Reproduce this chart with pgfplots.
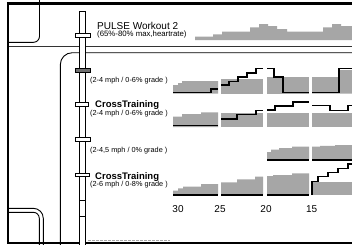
\documentclass[border=0pt]{standalone}
\usepackage{pgfplots}
\pgfplotsset{compat=1.18}
\usepackage{fontspec}
\setmainfont{Liberation Sans}
\definecolor{cg}{HTML}{A6A6A6}
\definecolor{hd}{HTML}{707070}
\begin{document}
\begin{tikzpicture}
\begin{axis}[x=1pt,y=1pt,y dir=reverse,xmin=0,xmax=352,ymin=0,ymax=244,
  hide axis,scale only axis,clip=true]
\fill[white] (axis cs:0,0) rectangle (axis cs:352,244);
% frame
\draw[line width=0.9pt,rounded corners=6pt] (axis cs:39.5,0) -- (axis cs:39.5,42.3) -- (axis cs:8,42.3);
\draw[line width=0.9pt,black!80] (axis cs:8,46.3) -- (axis cs:352,46.3);
\draw[line width=0.9pt,rounded corners=12pt] (axis cs:352,52.7) -- (axis cs:60.3,52.7) -- (axis cs:60.3,250);
\draw[line width=0.9pt,rounded corners=10pt] (axis cs:8,208.3) -- (axis cs:43.3,208.3) -- (axis cs:43.3,250);
\draw[line width=0.9pt,rounded corners=6pt] (axis cs:8,212.3) -- (axis cs:39.3,212.3) -- (axis cs:39.3,250);
\draw[line width=3pt] (axis cs:6.8,3.5) -- (axis cs:352,3.5);
\draw[line width=2.5pt] (axis cs:8,2) -- (axis cs:8,244);
\draw[line width=2pt] (axis cs:8,243) -- (axis cs:352,243);
\draw[cg,line width=1pt,dash pattern=on 3pt off 1pt] (axis cs:88,240.5) -- (axis cs:170,240.5);
% slider
\draw[line width=0.8pt,fill=white] (axis cs:79.5,11) rectangle (axis cs:85.5,250);
\draw[line width=0.6pt] (axis cs:79.5,200) -- (axis cs:85.5,200);
\draw[line width=0.6pt] (axis cs:79.5,216) -- (axis cs:85.5,216);
\draw[line width=0.8pt,fill=white] (axis cs:75,33.3) rectangle (axis cs:90,37.3);
\draw[line width=0.8pt,fill=hd] (axis cs:75,68) rectangle (axis cs:90,72.5);
\draw[line width=0.8pt,fill=white] (axis cs:75,102.7) rectangle (axis cs:88.5,106.3);
\draw[line width=0.8pt,fill=white] (axis cs:75,137.7) rectangle (axis cs:90,141.7);
\draw[line width=0.8pt,fill=white] (axis cs:75,173.3) rectangle (axis cs:89,176.7);
% texts
\node[anchor=base west,inner sep=0] at (axis cs:97,29.5) {\fontsize{10}{12}\selectfont PULSE Workout 2};
\node[anchor=base west,inner sep=0] at (axis cs:97,36.5) {\fontsize{7.8}{9}\selectfont (65\%-80\% max,heartrate)};
\node[anchor=base west,inner sep=0] at (axis cs:90,82.5) {\fontsize{7.3}{9}\selectfont (2-4 mph / 0-6\% grade )};
\node[anchor=base west,inner sep=0] at (axis cs:95,107.7) {\fontsize{9.5}{11}\selectfont\bfseries CrossTraining};
\node[anchor=base west,inner sep=0] at (axis cs:90,115) {\fontsize{7.3}{9}\selectfont (2-4 mph / 0-6\% grade )};
\node[anchor=base west,inner sep=0] at (axis cs:90,152.8) {\fontsize{7.3}{9}\selectfont (2-4,5 mph / 0\% grade )};
\node[anchor=base west,inner sep=0] at (axis cs:95,179) {\fontsize{9.5}{11}\selectfont\bfseries CrossTraining};
\node[anchor=base west,inner sep=0] at (axis cs:90,186.5) {\fontsize{7.3}{9}\selectfont (2-6 mph / 0-8\% grade )};
\node[anchor=base,inner sep=0] at (axis cs:178,212) {\fontsize{10}{12}\selectfont 30};
\node[anchor=base,inner sep=0] at (axis cs:220,212) {\fontsize{10}{12}\selectfont 25};
\node[anchor=base,inner sep=0] at (axis cs:266,212) {\fontsize{10}{12}\selectfont 20};
\node[anchor=base,inner sep=0] at (axis cs:311.7,212) {\fontsize{10}{12}\selectfont 15};
% row 0 pulse
\addplot[fill=cg,draw=none] coordinates {(195,40) (195,36.7) (213,36.7) (213,34.3) (222,34.3) (222,31.7) (250,31.7) (250,27.3) (259,27.3) (259,24) (268,24) (268,26) (277,26) (277,29) (287,29) (287,31.7) (323,31.7) (323,27.3) (332,27.3) (332,24) (341,24) (341,26) (352,26) (352,40)} -- cycle;
% row 1
\addplot[fill=cg,draw=none] coordinates {(173,93.5) (173,85) (178,85) (178,83) (182,83) (182,81) (218,81) (218,93.5)} -- cycle;
\addplot[fill=cg,draw=none] coordinates {(221,93.5) (221,79) (263,79) (263,93.5)} -- cycle;
\addplot[fill=cg,draw=none] coordinates {(267,93.5) (267,77) (309,77) (309,93.5)} -- cycle;
\addplot[fill=cg,draw=none] coordinates {(312,93.5) (312,77) (339,77) (339,70) (352,70) (352,93.5)} -- cycle;
\addplot[black,line width=1.5pt] coordinates {(173,92.3) (211,92.3) (211,89) (218,89)};
\addplot[black,line width=1.5pt] coordinates {(221,85) (229,85) (229,81.5) (238,81.5) (238,77) (247,77) (247,73) (256,73) (256,68.3) (263,68.3)};
\addplot[black,line width=1.5pt] coordinates {(267,68.3) (274,68.3) (274,77) (283,77) (283,92.3) (309,92.3)};
\addplot[black,line width=1.5pt] coordinates {(312,92.3) (339,92.3) (339,68.3) (352,68.3)};
% row 2
\addplot[fill=cg,draw=none] coordinates {(173,127) (173,116.7) (182,116.7) (182,114) (201,114) (201,112.3) (218,112.3) (218,127)} -- cycle;
\addplot[fill=cg,draw=none] coordinates {(221,127) (221,113.3) (263,113.3) (263,127)} -- cycle;
\addplot[fill=cg,draw=none] coordinates {(267,127) (267,113.3) (309,113.3) (309,127)} -- cycle;
\addplot[fill=cg,draw=none] coordinates {(312,127) (312,113.3) (352,113.3) (352,127)} -- cycle;
\addplot[black,line width=1.5pt] coordinates {(173,125.7) (218,125.7)};
\addplot[black,line width=1.5pt] coordinates {(221,119) (237,119) (237,114.7) (256,114.7) (256,110.7) (263,110.7)};
\addplot[black,line width=1.5pt] coordinates {(267,110) (275,110) (275,106) (293,106) (293,102) (309,102)};
\addplot[black,line width=1.5pt] coordinates {(312,105.5) (330,105.5) (330,110.5) (348,110.5) (348,105.5) (352,105.5)};
% row 3
\addplot[fill=cg,draw=none] coordinates {(267,159.5) (267,152) (271,152) (271,149.5) (279,149.5) (279,148) (292,148) (292,146.5) (309,146.5) (309,159.5)} -- cycle;
\addplot[fill=cg,draw=none] coordinates {(312,159.5) (312,146.5) (320,146.5) (320,145.8) (335,145.8) (335,145) (352,145) (352,159.5)} -- cycle;
\addplot[black,line width=1.5pt] coordinates {(267,160) (309,160)};
\addplot[black,line width=1.5pt] coordinates {(312,160) (352,160)};
% row 4
\addplot[fill=cg,draw=none] coordinates {(173,194.5) (173,190.7) (178,190.7) (178,188.3) (183,188.3) (183,186.7) (201,186.7) (201,184) (218,184) (218,194.5)} -- cycle;
\addplot[fill=cg,draw=none] coordinates {(221,194.5) (221,182.3) (237,182.3) (237,179.3) (255,179.3) (255,176.7) (263,176.7) (263,194.5)} -- cycle;
\addplot[fill=cg,draw=none] coordinates {(267,194.5) (267,176) (273,176) (273,175) (292,175) (292,173.3) (309,173.3) (309,194.5)} -- cycle;
\addplot[fill=cg,draw=none] coordinates {(312,194.5) (312,182.3) (352,182.3) (352,194.5)} -- cycle;
\addplot[black,line width=1.5pt] coordinates {(173,195) (218,195)};
\addplot[black,line width=1.5pt] coordinates {(221,195) (263,195)};
\addplot[black,line width=1.5pt] coordinates {(267,195) (309,195)};
\addplot[black,line width=1.5pt] coordinates {(312,195) (312,181.7) (318,181.7) (318,176.7) (328,176.7) (328,172.7) (338,172.7) (338,168.3) (348,168.3) (348,164) (352,164)};
\end{axis}
\end{tikzpicture}
\end{document}
